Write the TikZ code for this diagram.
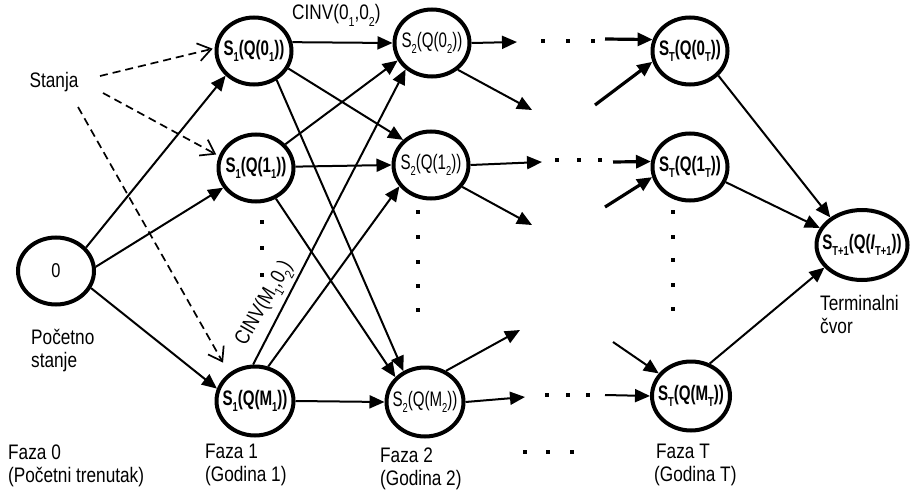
\documentclass[tikz,border=0pt]{standalone}
\usepackage{fontspec}
\setmainfont{Liberation Sans}[FakeStretch=0.82]
\newfontfamily\nodefont{Liberation Sans}[FakeStretch=0.72]
\usetikzlibrary{arrows.meta,shapes.geometric}
\newcommand\sbs[1]{\raisebox{-0.3em}{\fontsize{13}{13}\selectfont #1}}
\newcommand\nt[1]{\makebox[0pt]{#1}}
\begin{document}
\begin{tikzpicture}[x=1pt,y=-1pt,
  st/.style={draw, line width=4pt, ellipse, minimum width=75pt, minimum height=67pt, inner sep=0pt,
    font=\nodefont\bfseries\fontsize{21}{23}\selectfont},
  streg/.style={st, font=\nodefont\fontsize{21}{23}\selectfont},
  lbl/.style={font=\fontsize{21}{24}\selectfont, inner sep=0pt},
  arr/.style={line width=2pt, -{Triangle[length=15pt,width=13pt]}},
  tarr/.style={arr, line width=3.2pt},
  darr/.style={line width=1.7pt, dash pattern=on 8pt off 5pt, -{Straight Barb[length=13pt,width=18pt]}},
  dotsq/.style={fill=black}
]
\useasboundingbox (0,0) rectangle (912,492);

% nodes
\node[st, minimum width=76pt, minimum height=67pt, font=\fontsize{20}{22}\selectfont] (n0) at (56,271) {0};
\node[st] (s10) at (254,51) {\nt{S\sbs{1}(Q(0\sbs{1}))}};
\node[st] (s11) at (256,168) {\nt{S\sbs{1}(Q(1\sbs{1}))}};
\node[st, minimum width=77pt, minimum height=69pt] (s1M) at (255,401) {\nt{S\sbs{1}(Q(M\sbs{1}))}};
\node[streg] (s20) at (432,43) {\nt{S\sbs{2}(Q(0\sbs{2}))}};
\node[streg] (s21) at (431,165) {\nt{S\sbs{2}(Q(1\sbs{2}))}};
\node[streg, minimum width=77pt, minimum height=69pt] (s2M) at (425,402) {\nt{S\sbs{2}(Q(M\sbs{2}))}};
\node[st] (sT0) at (690,51) {\nt{S\sbs{T}(Q(0\sbs{T}))}};
\node[st] (sT1) at (690,167) {\nt{S\sbs{T}(Q(1\sbs{T}))}};
\node[st, minimum width=78pt, minimum height=69pt] (sTM) at (691,396) {\nt{S\sbs{T}(Q(M\sbs{T}))}};
\node[st, minimum width=91pt, minimum height=70pt] (term) at (862,245) {\nt{S\sbs{T+1}(Q(\textit{I}\sbs{T+1}))}};

% labels
\node[lbl, anchor=base] (stanja) at (54,88) {Stanja};
\node[lbl, anchor=base west] (cinv1) at (292,20) {CINV(0\sbs{1},0\sbs{2})};
\node[lbl, rotate=60] (cinv2) at (265,304) {CINV(M\sbs{1},0\sbs{2})};
\node[lbl, anchor=base west] (poc1) at (31,344) {Početno};
\node[lbl, anchor=base west] (poc2) at (31,367) {stanje};
\node[lbl, anchor=base west] (f0a) at (8,459) {Faza 0};
\node[lbl, anchor=base west] (f0b) at (8,482) {(Početni trenutak)};
\node[lbl, anchor=base west] (f1a) at (205,458) {Faza 1};
\node[lbl, anchor=base west] (f1b) at (205,481) {(Godina 1)};
\node[lbl, anchor=base west] (f2a) at (380,462) {Faza 2};
\node[lbl, anchor=base west] (f2b) at (380,485) {(Godina 2)};
\node[lbl, anchor=base west] (fTa) at (656,458) {Faza T};
\node[lbl, anchor=base west] (fTb) at (654,481) {(Godina T)};
\node[lbl, anchor=base west] (tm1) at (820,310) {Terminalni};
\node[lbl, anchor=base west] (tm2) at (820,333) {čvor};

% phase 0 -> 1
\draw[arr] (n0.38) -- (s10.221);
\draw[arr] (n0.6) -- (s11.211);
\draw[arr] (n0.-26) -- (s1M.162);
% phase 1 -> 2
\draw[arr] (s10.13) -- (s20.180);
\draw[arr] (s10.-27) -- (s21.138);
\draw[arr] (s10.-52) -- (s2M.125);
\draw[arr] (s11.39) -- (s20.207);
\draw[arr] (s11.2) -- (s21.180);
\draw[arr] (s11.-57) -- (s2M.140);
\draw[arr] (s1M.93) -- (s20.225);
\draw[arr] (s1M.69) -- (s21.214);
\draw[arr] (s1M.east) -- (s2M.west);
% phase 2 outgoing
\coordinate (e20a) at (517,42);
\coordinate (e20b) at (532,110);
\coordinate (e21a) at (542,162);
\coordinate (e21b) at (532,225);
\coordinate (e2Ma) at (520,330);
\coordinate (e2Mb) at (525,397);
\draw[arr] (s20.east) -- (e20a);
\draw[arr] (s20.-46) -- (e20b);
\draw[arr] (s21.east) -- (e21a);
\draw[arr] (s21.-35) -- (e21b);
\draw[arr] (s2M.56) -- (e2Ma);
\draw[arr] (s2M.east) -- (e2Mb);
% into phase T
\coordinate (bT0a) at (605,39);
\coordinate (bT0b) at (595,105);
\coordinate (bT1a) at (613,162);
\coordinate (bT1b) at (605,207);
\coordinate (bTMa) at (613,342);
\coordinate (bTMb) at (605,395);
\draw[tarr] (bT0a) -- (sT0.163);
\draw[tarr] (bT0b) -- (sT0.196);
\draw[tarr] (bT1a) -- (sT1.172);
\draw[tarr] (bT1b) -- (sT1.195);
\draw[arr] (bTMa) -- (sTM.145);
\draw[arr] (bTMb) -- (sTM.180);
% into terminal
\draw[arr] (sT0.-41) -- (term.139);
\draw[arr] (sT1.-23) -- (term.158);
\draw[arr] (sTM.60) -- (term.211);
% dashed from Stanja
\coordinate (d1) at (100,76);
\coordinate (d2) at (103,93);
\coordinate (d3) at (78,107);
\draw[darr, shorten >=2pt] (d1) -- (s10.176);
\draw[darr, shorten >=3pt] (d2) -- (s11.162);
\draw[darr, shorten >=12pt] (d3) -- (s1M.133);

% dots
\foreach \x/\y in {262/222,262/248,262/275,
  418/212,418/237,418/262,418/286,418/310,
  673/212,673/237,673/260,673/285,673/309,
  543/41,568/41,593/41,
  557/160,579/160,600/160,
  547/395,568/395,588/395,
  525/452,548/452,572/452}
  \fill[dotsq] (\x-1.6,\y-1.6) rectangle (\x+1.6,\y+1.6);
\end{tikzpicture}
\end{document}
